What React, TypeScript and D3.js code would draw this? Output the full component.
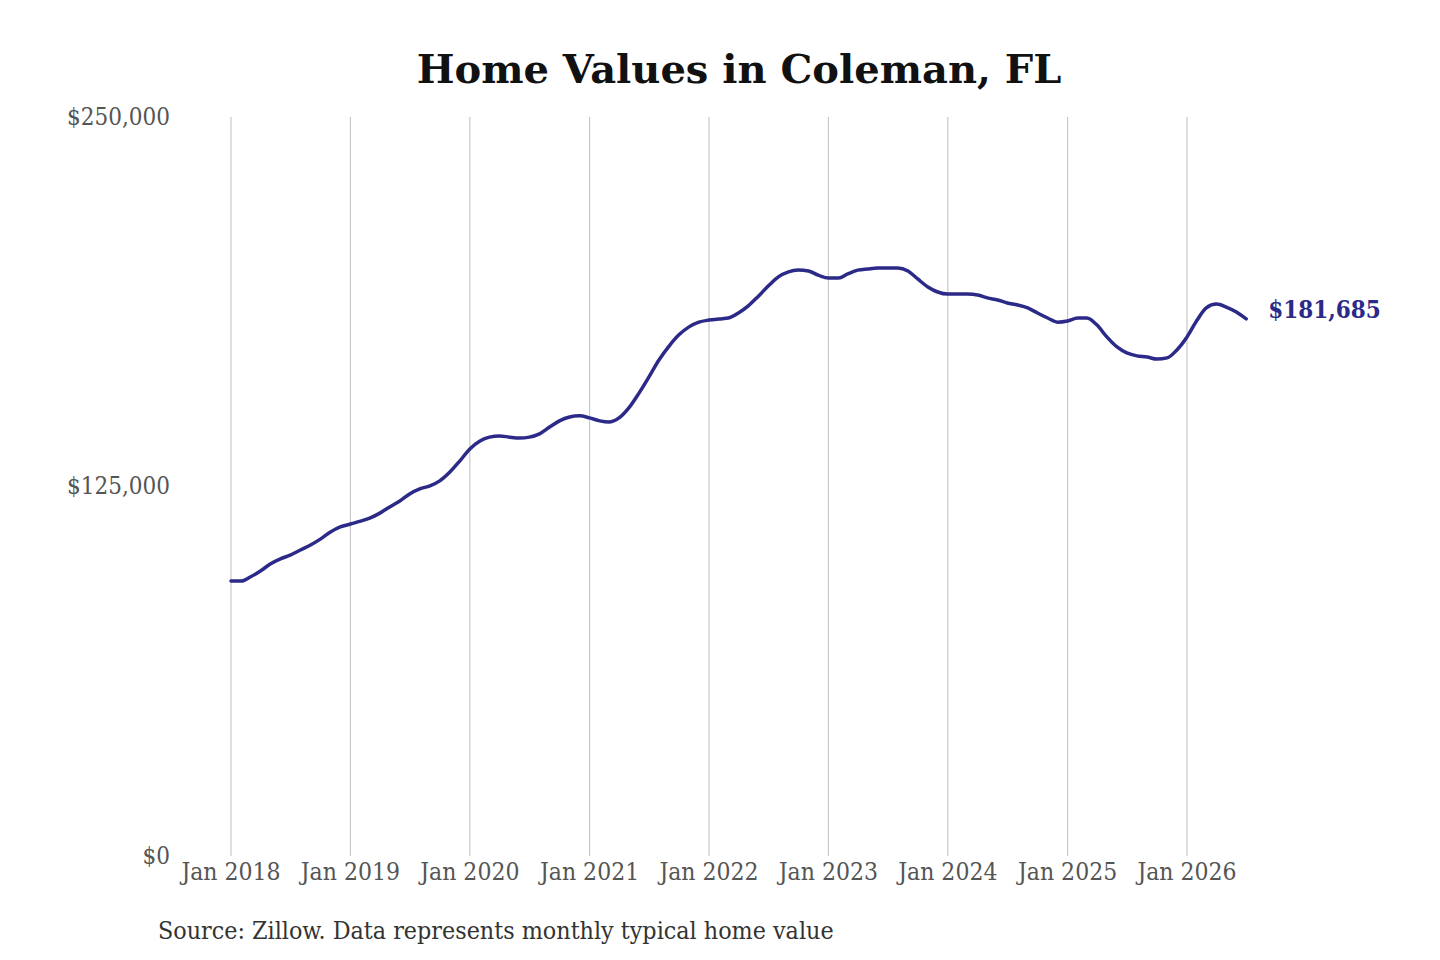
import React from "react";
import * as d3 from "d3";

const title = "Home Values in Coleman, FL";
const source = "Source: Zillow. Data represents monthly typical home value";
const startYear = 2018;
const startMonth = 0;
const values: number[] = [
  93000, 93000, 94400, 96400, 98800, 100500, 101800, 103500, 105200, 107200, 109600, 111300,
  112300, 113300, 114300, 116000, 118100, 120100, 122500, 124200, 125200, 126900, 129900, 133600,
  137700, 140400, 141700, 142100, 141700, 141400, 141700, 142800, 145100, 147200, 148500, 148900,
  148200, 147200, 146800, 148200, 151600, 156600, 162000, 167800, 172500, 176300, 179000, 180600,
  181300, 181700, 182000, 183700, 186100, 189400, 192800, 195900, 197600, 198200, 197900, 196500,
  195500, 195500, 196900, 198200, 198600, 198900, 198900, 198900, 197900, 195200, 192500, 190800,
  190100, 190100, 190100, 189800, 188800, 188100, 187100, 186400, 185400, 183700, 182000, 180600,
  181000, 182000, 182000, 179600, 175600, 172200, 170200, 169200, 168800, 168100, 168500, 171200,
  175600, 181300, 185400, 186700, 185700, 184000, 181685,
];
const yTicks = [0, 125000, 250000];
const xTickYears = [2018, 2019, 2020, 2021, 2022, 2023, 2024, 2025, 2026];
const lastLabel = "$181,685";

const W = 1440;
const H = 960;
const left = 231;
const right = 1187;
const top = 117;
const bottom = 856;

export default function App() {
  const data = values.map((v, i) => ({ date: new Date(startYear, startMonth + i, 1), v }));
  const x = d3
    .scaleTime()
    .domain([new Date(2018, 0, 1), new Date(2026, 0, 1)])
    .range([left, right]);
  const y = d3.scaleLinear().domain([0, 250000]).range([bottom, top]);
  const line = d3
    .line<{ date: Date; v: number }>()
    .x((d) => x(d.date))
    .y((d) => y(d.v))
    .curve(d3.curveMonotoneX);
  const fmt = (v: number) => "$" + d3.format(",")(v);
  const last = data[data.length - 1];
  const condensed = "'DejaVu Serif Condensed', 'DejaVu Serif', serif";

  return (
    <svg
      width={W}
      height={H}
      style={{ position: "absolute", left: 0, top: 0, background: "#fff" }}
    >
      <text
        x={739}
        y={83}
        textAnchor="middle"
        fontFamily="'DejaVu Serif', serif"
        fontWeight="bold"
        fontSize={40}
        fill="#111"
      >
        {title}
      </text>
      {xTickYears.map((yr) => (
        <g key={yr}>
          <line
            x1={x(new Date(yr, 0, 1))}
            x2={x(new Date(yr, 0, 1))}
            y1={top}
            y2={bottom}
            stroke="#c8c8c8"
            strokeWidth={1.2}
          />
          <text
            x={x(new Date(yr, 0, 1))}
            y={880}
            textAnchor="middle"
            fontFamily={condensed}
            fontSize={24.5}
            fill="#555"
          >
            {"Jan " + yr}
          </text>
        </g>
      ))}
      {yTicks.map((t) => (
        <text
          key={t}
          x={170}
          y={y(t)}
          dy="0.33em"
          textAnchor="end"
          fontFamily={condensed}
          fontSize={24}
          fill="#555"
        >
          {fmt(t)}
        </text>
      ))}
      <path d={line(data) || ""} fill="none" stroke="#2c2a88" strokeWidth={3.5} strokeLinejoin="round" strokeLinecap="round" />
      <text
        x={x(last.date) + 22}
        y={y(last.v)}
        dy="-0.05em"
        fontFamily={condensed}
        fontWeight="bold"
        fontSize={24}
        fill="#2c2a88"
      >
        {lastLabel}
      </text>
      <text
        x={158}
        y={939}
        fontFamily={condensed}
        fontSize={24.8}
        fill="#333"
      >
        {source}
      </text>
    </svg>
  );
}
